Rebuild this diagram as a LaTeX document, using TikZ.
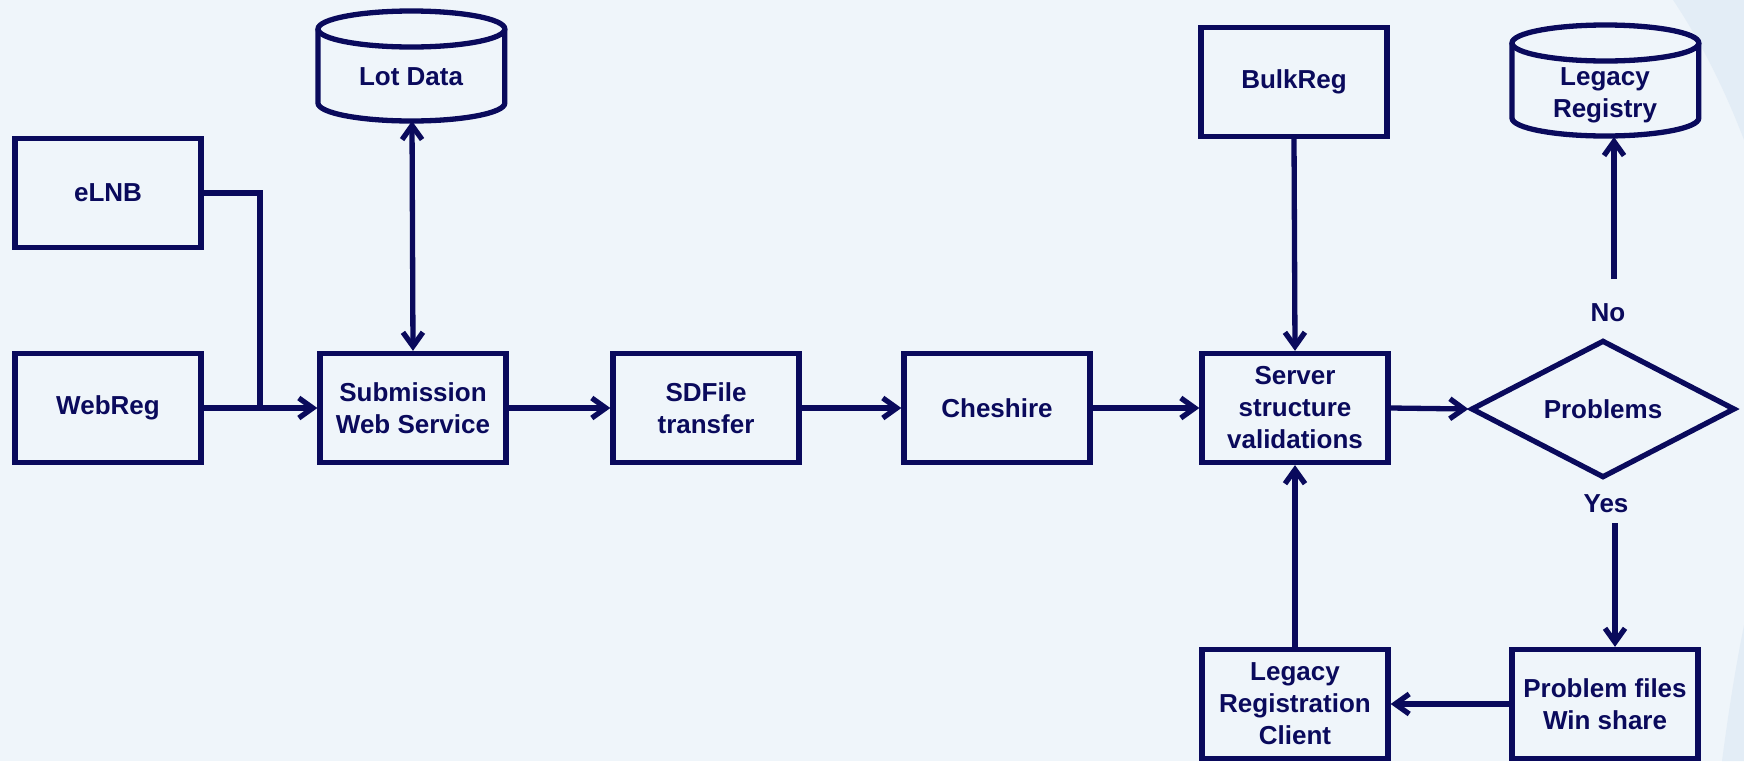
\documentclass[tikz,border=0pt]{standalone}
\usepackage{fontspec}
\setmainfont{Liberation Sans}
\usetikzlibrary{arrows.meta,shapes.geometric,calc}
\definecolor{ink}{HTML}{0A0A5C}
\definecolor{bgcol}{HTML}{EFF5FA}
\definecolor{accent}{HTML}{E3EDF6}
\begin{document}
\begin{tikzpicture}[x=0.5pt,y=-0.5pt,
  txt/.style={font=\bfseries\fontsize{13}{16}\selectfont, text=ink, align=center},
  box/.style={txt, draw=ink, line width=2.65pt, rectangle, minimum width=93pt, minimum height=54.5pt, inner sep=0pt},
  dec/.style={txt, draw=ink, line width=2.65pt, diamond, minimum width=132pt, minimum height=63pt, inner sep=0pt},
  ln/.style={draw=ink, line width=2.65pt},
  arr/.style={ln, -{Straight Barb[length=7pt,width=10pt]}},
  darr/.style={ln, {Straight Barb[length=7pt,width=10pt]}-{Straight Barb[length=7pt,width=10pt]}}]
\useasboundingbox (0,0) rectangle (1744,761);
\fill[bgcol] (0,0) rectangle (1744,761);
\fill[accent] (1673,0) .. controls (1700,40) and (1725,90) .. (1744,140) -- (1744,0) -- cycle;
\fill[accent] (1744,625) .. controls (1735,670) and (1728,715) .. (1722,761) -- (1744,761) -- cycle;

% boxes
\node[box] (elnb) at (108,193) {eLNB};
\node[box] (webreg) at (108,408) {WebReg};
\node[box] (sub) at (413,408) {Submission\\Web Service};
\node[box] (sdf) at (706,408) {SDFile\\transfer};
\node[box] (ches) at (997,408) {Cheshire};
\node[box] (serv) at (1295,408) {Server\\structure\\validations};
\node[box] (bulk) at (1294,82) {BulkReg};
\node[dec] (prob) at (1603,409) {Problems};
\node[box] (pfw) at (1605,704) {Problem files\\Win share};
\node[box] (lrc) at (1295,704) {Legacy\\Registration\\Client};

% cylinders
\draw[ln] (318,29) -- (318,103) arc[start angle=180,end angle=360,x radius=46.7pt,y radius=9pt] -- (504.8,29);
\draw[ln] (411.4,29) ellipse[x radius=46.7pt,y radius=9pt];
\node[txt] (lot) at (411,77) {Lot Data};
\coordinate (lotbot) at (412,121);

\draw[ln] (1512,43) -- (1512,118) arc[start angle=180,end angle=360,x radius=46.7pt,y radius=9pt] -- (1698.8,43);
\draw[ln] (1605.4,43) ellipse[x radius=46.7pt,y radius=9pt];
\node[txt] (legreg) at (1605,95) {Legacy\\Registry};
\coordinate (legregbot) at (1614,137);

% labels
\node[txt] (no) at (1608,313) {No};
\node[txt] (yes) at (1606,504) {Yes};
\coordinate (nostart) at (1614,279);
\coordinate (yesstart) at (1615,523);

% connectors
\coordinate (join) at (260,408);
\draw[ln] (elnb.east) -| (join);
\draw[arr] (webreg.east) -- (sub.west);
\draw[darr] (lotbot) -- (sub.north);
\draw[arr] (sub.east) -- (sdf.west);
\draw[arr] (sdf.east) -- (ches.west);
\draw[arr] (ches.east) -- (serv.west);
\draw[arr] (serv.east) -- (prob.west);
\draw[arr] (bulk.south) -- (serv.north);
\draw[arr] (nostart) -- (legregbot);
\draw[arr] (yesstart) -- (yesstart |- pfw.north);
\draw[arr] (pfw.west) -- (lrc.east);
\draw[arr] (lrc.north) -- (serv.south);
\end{tikzpicture}
\end{document}
